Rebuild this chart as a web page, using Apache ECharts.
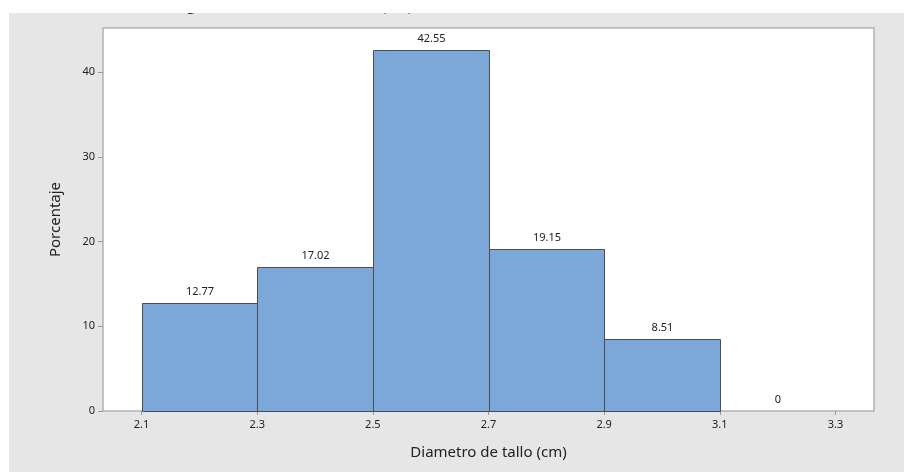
<!DOCTYPE html>
<html>
<head>
<meta charset="utf-8">
<script src="https://cdn.jsdelivr.net/npm/echarts@6/dist/echarts.min.js"></script>
<style>
html,body{margin:0;padding:0;background:#ffffff;}
#chart{width:904px;height:472px;}
</style>
</head>
<body>
<div id="chart"></div>
<script>
var binStarts = [2.1, 2.3, 2.5, 2.7, 2.9, 3.1];
var binEnds   = [2.3, 2.5, 2.7, 2.9, 3.1, 3.3];
var percent   = [12.77, 17.02, 42.55, 19.15, 8.51, 0];
var barLabels = ['12.77', '17.02', '42.55', '19.15', '8.51', '0'];
var xTickValues = [2.1, 2.3, 2.5, 2.7, 2.9, 3.1, 3.3];
var yTickValues = [0, 10, 20, 30, 40];
var titleText = 'Histograma de Diametro de tallo (cm)';
var xTitle = 'Diametro de tallo (cm)';
var yTitle = 'Porcentaje';

var data = binStarts.map(function (s, i) { return [s, binEnds[i], percent[i], barLabels[i]]; });

var chart = echarts.init(document.getElementById('chart'), null, {renderer: 'canvas'});
var FONT = 'Noto Sans';
chart.setOption({
  animation: false,
  backgroundColor: '#ffffff',
  graphic: [
    {type: 'rect', left: 9, top: 13, z: -10, silent: true,
     shape: {width: 895, height: 459}, style: {fill: '#e6e6e6'}},
    {type: 'text', z: -5, silent: true, x: 150, y: 14,
     style: {text: titleText, font: 'bold 14px "Noto Sans"', fill: '#222', verticalAlign: 'bottom'}},
    {type: 'rect', left: 0, top: 0, z: -4, silent: true,
     shape: {width: 904, height: 13}, style: {fill: '#ffffff'}}
  ],
  grid: {
    left: 103, right: 30, top: 28, bottom: 61,
    show: true, backgroundColor: '#ffffff', borderColor: '#b3b3b3', borderWidth: 1.5,
    containLabel: false
  },
  xAxis: {
    type: 'value', min: 2.0333, max: 3.3667,
    name: xTitle, nameLocation: 'middle', nameGap: 34,
    nameTextStyle: {fontFamily: FONT, fontSize: 15, color: '#222'},
    axisLine: {show: false},
    splitLine: {show: false},
    axisTick: {show: true, customValues: xTickValues, length: 4, lineStyle: {color: '#999', width: 1}},
    axisLabel: {customValues: xTickValues, fontFamily: FONT, fontSize: 11, color: '#222', margin: 8,
      formatter: function (v) { return (+v).toFixed(1); }}
  },
  yAxis: {
    type: 'value', min: 0, max: 45.2,
    name: yTitle, nameLocation: 'middle', nameGap: 40,
    nameTextStyle: {fontFamily: FONT, fontSize: 15, color: '#222'},
    axisLine: {show: false},
    splitLine: {show: false},
    axisTick: {show: true, customValues: yTickValues, length: 5, lineStyle: {color: '#999', width: 1}},
    axisLabel: {customValues: yTickValues, fontFamily: FONT, fontSize: 11, color: '#222', margin: 8}
  },
  series: [{
    type: 'custom',
    data: data,
    encode: {x: [0, 1], y: 2},
    renderItem: function (params, api) {
      var p0 = api.coord([api.value(0), api.value(2)]);
      var p1 = api.coord([api.value(1), 0]);
      var x = Math.round(p0[0]) + 0.5, x2 = Math.round(p1[0]) + 0.5;
      var y = Math.round(p0[1]) + 0.5, y2 = Math.round(p1[1]) + 0.5;
      var children = [];
      if (y2 - y > 0.6) {
        children.push({type: 'rect', shape: {x: x, y: y, width: x2 - x, height: y2 - y},
          style: {fill: '#7ba7d9', stroke: '#4d4d4d', lineWidth: 1}});
      }
      children.push({type: 'text', x: (x + x2) / 2, y: y - 6,
        style: {text: data[params.dataIndex][3], font: '11px "Noto Sans"', fill: '#222',
          align: 'center', verticalAlign: 'bottom'}});
      return {type: 'group', children: children};
    }
  }]
});
</script>
</body>
</html>
